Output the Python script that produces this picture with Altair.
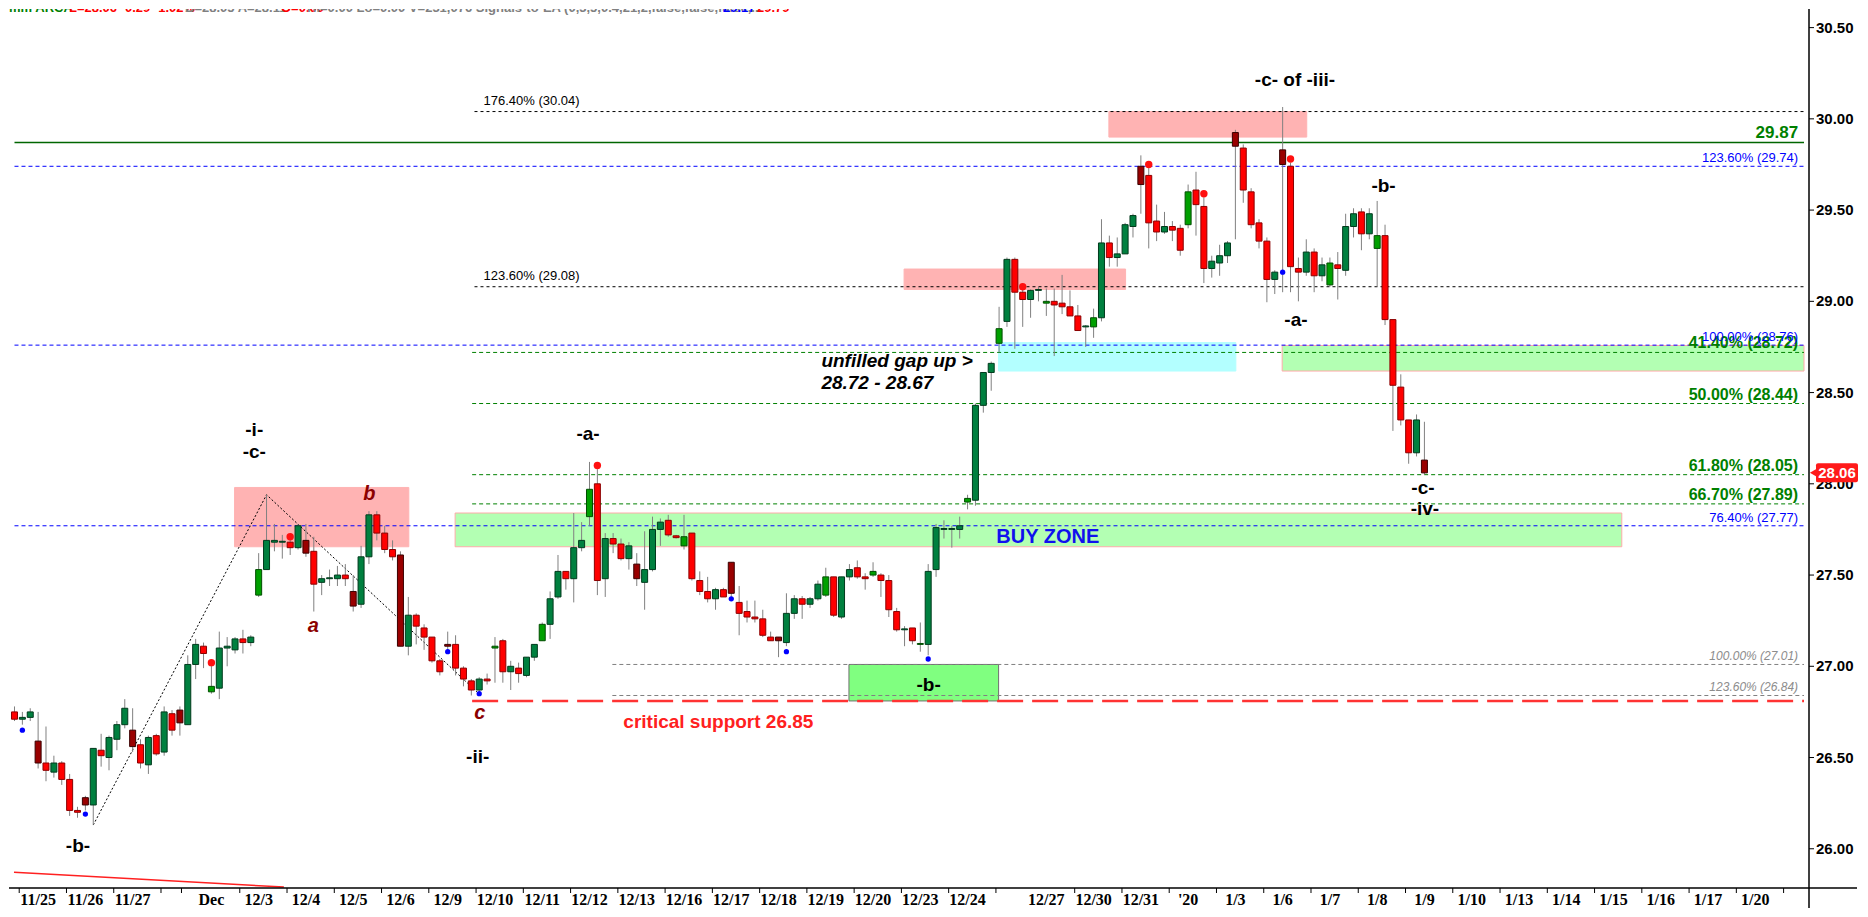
import altair as alt
import pandas as pd

# ---------------- OHLC bars (6 bars per session, last bars of 11/22 .. first bar of 1/9) ----------------
bar_open = [
    26.75, 26.71, 26.72, 26.59, 26.47, 26.42, 26.47, 26.38, 26.21, 26.28,
    26.24, 26.54, 26.50, 26.60, 26.68, 26.65, 26.57, 26.46, 26.62, 26.53,
    26.74, 26.76, 26.68, 27.01, 27.11, 26.86, 26.88, 27.10, 27.09, 27.15,
    27.13, 27.39, 27.53, 27.68, 27.68, 27.68, 27.65, 27.69, 27.63, 27.46,
    27.48, 27.48, 27.50, 27.41, 27.34, 27.60, 27.83, 27.73, 27.64, 27.61,
    27.11, 27.28, 27.21, 27.16, 27.03, 27.12, 27.12, 26.99, 26.92, 26.87,
    26.93, 27.10, 27.14, 26.97, 26.99, 26.95, 27.05, 27.14, 27.23, 27.38,
    27.52, 27.48, 27.65, 27.82, 28.00, 27.48, 27.70, 27.67, 27.59, 27.56,
    27.46, 27.53, 27.75, 27.80, 27.715, 27.66, 27.73, 27.47, 27.41, 27.37,
    27.42, 27.57, 27.35, 27.30, 27.27, 27.26, 27.16, 27.16, 27.13, 27.29,
    27.37, 27.34, 27.37, 27.39, 27.49, 27.27, 27.49, 27.54, 27.49, 27.50,
    27.50, 27.47, 27.30, 27.20, 27.21, 27.12, 27.12, 27.53, 27.75, 27.75,
    27.75, 27.90, 27.91, 28.43, 28.61, 28.77, 28.89, 29.23, 29.05, 29.01,
    29.06, 28.99, 29.00, 28.99, 28.97, 28.92, 28.86, 28.86, 28.91, 29.32,
    29.24, 29.26, 29.41, 29.74, 29.69, 29.44, 29.38, 29.41, 29.40, 29.42,
    29.61, 29.52, 29.18, 29.21, 29.25, 29.925, 29.84, 29.60, 29.43, 29.33,
    29.12, 29.83, 29.74, 29.18, 29.16, 29.27, 29.14, 29.09, 29.20, 29.17,
    29.41, 29.49, 29.37, 29.29, 29.36, 28.90, 28.53, 28.35, 28.17, 28.13,
]
bar_high = [
    26.78, 26.75, 26.77, 26.75, 26.67, 26.51, 26.48, 26.41, 26.23, 26.29,
    26.55, 26.63, 26.62, 26.70, 26.82, 26.77, 26.60, 26.62, 26.63, 26.78,
    26.76, 26.78, 27.06, 27.15, 27.13, 27.02, 27.19, 27.16, 27.16, 27.20,
    27.17, 27.62, 27.94, 27.78, 27.72, 27.71, 27.78, 27.78, 27.71, 27.50,
    27.53, 27.55, 27.56, 27.50, 27.66, 27.85, 27.85, 27.77, 27.69, 27.63,
    27.38, 27.29, 27.23, 27.16, 27.04, 27.19, 27.17, 27.00, 26.93, 26.94,
    26.96, 27.16, 27.15, 27.03, 27.02, 27.05, 27.12, 27.24, 27.41, 27.61,
    27.52, 27.84, 27.79, 28.12, 28.08, 27.73, 27.73, 27.70, 27.68, 27.62,
    27.74, 27.82, 27.81, 27.83, 27.72, 27.83, 27.73, 27.52, 27.49, 27.43,
    27.43, 27.57, 27.44, 27.36, 27.36, 27.31, 27.19, 27.16, 27.40, 27.39,
    27.385, 27.38, 27.47, 27.54, 27.49, 27.49, 27.56, 27.58, 27.51, 27.57,
    27.51, 27.50, 27.32, 27.22, 27.21, 27.24, 27.56, 27.78, 27.80, 27.77,
    27.82, 27.94, 28.44, 28.61, 28.67, 28.97, 29.24, 29.24, 29.08, 29.065,
    29.08, 29.07, 29.07, 29.145, 29.06, 28.98, 28.87, 28.96, 29.45, 29.36,
    29.35, 29.43, 29.48, 29.80, 29.73, 29.53, 29.49, 29.44, 29.42, 29.64,
    29.71, 29.57, 29.25, 29.31, 29.33, 29.94, 29.86, 29.62, 29.45, 29.35,
    29.17, 30.065, 29.76, 29.24, 29.34, 29.29, 29.24, 29.24, 29.27, 29.48,
    29.51, 29.51, 29.51, 29.55, 29.42, 28.90, 28.60, 28.35, 28.38, 28.34,
]
bar_low = [
    26.70, 26.68, 26.70, 26.44, 26.37, 26.39, 26.35, 26.18, 26.17, 26.21,
    26.13, 26.45, 26.43, 26.54, 26.66, 26.53, 26.44, 26.41, 26.51, 26.51,
    26.62, 26.62, 26.68, 26.93, 26.99, 26.85, 26.82, 27.00, 27.07, 27.07,
    27.11, 27.38, 27.53, 27.63, 27.59, 27.61, 27.64, 27.60, 27.30, 27.39,
    27.44, 27.44, 27.44, 27.30, 27.32, 27.56, 27.69, 27.62, 27.58, 27.11,
    27.06, 27.12, 27.09, 27.02, 26.95, 27.09, 26.95, 26.89, 26.84, 26.86,
    26.90, 26.91, 26.91, 26.87, 26.91, 26.94, 27.03, 27.14, 27.15, 27.37,
    27.42, 27.35, 27.63, 27.77, 27.39, 27.38, 27.62, 27.58, 27.53, 27.44,
    27.31, 27.52, 27.66, 27.71, 27.70, 27.64, 27.47, 27.39, 27.35, 27.31,
    27.38, 27.38, 27.17, 27.24, 27.24, 27.16, 27.14, 27.05, 27.11, 27.26,
    27.26, 27.32, 27.36, 27.38, 27.27, 27.26, 27.47, 27.48, 27.42, 27.49,
    27.38, 27.27, 27.19, 27.11, 27.12, 27.08, 27.06, 27.49, 27.70, 27.65,
    27.70, 27.86, 27.88, 28.39, 28.51, 28.72, 28.86, 28.74, 28.86, 28.91,
    29.00, 28.92, 28.70, 28.93, 28.92, 28.84, 28.75, 28.80, 28.89, 29.19,
    29.19, 29.26, 29.35, 29.48, 29.29, 29.33, 29.37, 29.33, 29.25, 29.40,
    29.36, 29.10, 29.13, 29.14, 29.21, 29.34, 29.54, 29.40, 29.29, 28.995,
    29.04, 29.05, 29.05, 29.00, 29.14, 29.05, 29.11, 29.08, 29.01, 29.14,
    29.35, 29.28, 29.34, 29.08, 28.87, 28.29, 28.32, 28.11, 28.15, 28.05,
]
bar_close = [
    26.71, 26.72, 26.75, 26.47, 26.43, 26.47, 26.38, 26.21, 26.20, 26.24,
    26.55, 26.51, 26.61, 26.68, 26.77, 26.56, 26.47, 26.61, 26.52, 26.75,
    26.65, 26.69, 27.01, 27.12, 27.07, 26.89, 27.10, 27.11, 27.15, 27.13,
    27.16, 27.53, 27.69, 27.69, 27.685, 27.65, 27.77, 27.62, 27.45, 27.48,
    27.485, 27.50, 27.48, 27.33, 27.60, 27.83, 27.73, 27.64, 27.60, 27.11,
    27.28, 27.22, 27.16, 27.03, 26.97, 27.11, 26.99, 26.93, 26.87, 26.93,
    26.92, 27.11, 26.97, 27.00, 26.96, 27.05, 27.12, 27.23, 27.37, 27.52,
    27.48, 27.65, 27.69, 27.97, 27.47, 27.70, 27.67, 27.59, 27.66, 27.48,
    27.53, 27.75, 27.79, 27.72, 27.705, 27.71, 27.48, 27.41, 27.37, 27.42,
    27.38, 27.40, 27.29, 27.27, 27.26, 27.17, 27.14, 27.14, 27.29, 27.37,
    27.34, 27.37, 27.45, 27.49, 27.28, 27.49, 27.53, 27.49, 27.48, 27.52,
    27.47, 27.31, 27.20, 27.205, 27.14, 27.125, 27.52, 27.76, 27.755, 27.755,
    27.77, 27.92, 28.43, 28.61, 28.66, 28.85, 29.23, 29.05, 29.01, 29.06,
    29.065, 29.00, 28.98, 28.97, 28.92, 28.84, 28.865, 28.91, 29.32, 29.24,
    29.26, 29.42, 29.47, 29.64, 29.43, 29.38, 29.41, 29.39, 29.28, 29.60,
    29.53, 29.18, 29.22, 29.25, 29.32, 29.85, 29.61, 29.42, 29.33, 29.12,
    29.16, 29.75, 29.19, 29.16, 29.27, 29.14, 29.20, 29.21, 29.18, 29.41,
    29.48, 29.37, 29.48, 29.36, 28.90, 28.54, 28.35, 28.17, 28.35, 28.06,
]
# g = up, G = up (first bar of session), r = down, R = down (first bar of session)
bar_style = list(
    "rggRrgrrrR" "grgggRrgrg" "rRggrGgggr" "gGgggrgRrg" "ggrRggrrrR"
    "grrrrRrrrg" "rGrgrggGgg" "rggGrgrrgR" "gggrrGrrrg" "rRrrrrrRgg"
    "rggGrggrrG" "rrrgrGgggg" "gGgggGgrrg" "gGrrrrgGgr" "gggRrrgrrG"
    "rrgggRrrrr" "gRrrgrgGrg" "grgGrrrrgR"
)

red_dot_bar = [25, 35, 74, 128, 144, 151, 162]
red_dot_price = [27.02, 27.71, 28.10, 29.08, 29.75, 29.59, 29.78]
blue_dot_bar = [1, 9, 55, 59, 91, 98, 116, 161]
blue_dot_price = [26.65, 26.19, 27.08, 26.85, 27.37, 27.08, 27.04, 29.16]

day_labels = ["11/25", "11/26", "11/27", "Dec", "12/3", "12/4", "12/5", "12/6", "12/9", "12/10",
              "12/11", "12/12", "12/13", "12/16", "12/17", "12/18", "12/19", "12/20", "12/23", "12/24",
              "12/27", "12/30", "12/31", "'20", "1/3", "1/6", "1/7", "1/8", "1/9", "1/10",
              "1/13", "1/14", "1/15", "1/16", "1/17", "1/20"]
day_bars = [3, 9, 15, 25, 31, 37, 43, 49, 55, 61, 67, 73, 79, 85, 91, 97, 103, 109, 115, 121,
            131, 137, 143, 149, 155, 161, 167, 173, 179, 185, 191, 197, 203, 209, 215, 221]

price_ticks = [26.0, 26.5, 27.0, 27.5, 28.0, 28.5, 29.0, 29.5, 30.0, 30.5]
last_price = 28.06

# fib / support levels
lvl_price = [30.04, 29.87, 29.74, 29.08, 28.76, 28.72, 28.44, 28.05, 27.89, 27.77, 27.01, 26.84, 26.81]
lvl_start = [58.4, 0.0, 0.0, 58.4, 0.0, 58.1, 58.1, 58.1, 58.1, 0.0, 75.9, 75.9, 58.1]
lvl_kind = ["black", "gsolid", "blue", "black", "blue", "green", "green", "green", "green", "blue",
            "gray", "gray", "critical"]
lvl_text = ["176.40% (30.04)", "29.87", "123.60% (29.74)", "123.60% (29.08)", "100.00% (28.76)",
            "41.40% (28.72)", "50.00% (28.44)", "61.80% (28.05)", "66.70% (27.89)", "76.40% (27.77)",
            "100.00% (27.01)", "123.60% (26.84)", ""]

# zones
zone_x0 = [27.94, 55.94, 112.94, 124.94, 160.94, 138.94, 105.94]
zone_x1 = [50.06, 204.06, 141.06, 155.06, 227.19, 164.06, 124.94]
zone_top = [27.98, 27.84, 29.177, 28.774, 28.758, 30.04, 27.01]
zone_bot = [27.655, 27.655, 29.065, 28.618, 28.618, 29.90, 26.81]
zone_kind = ["pink", "buy", "pink", "gap", "buy", "pink", "bbox"]

# wave path and trend line
wave_bar = [10, 32, 58.7]
wave_price = [26.13, 27.94, 26.86]
trend_bar = [-0.06, 34.2]
trend_price = [25.871, 25.79]

# annotations
wave_t = ["-b-", "-i-", "-c-", "-ii-", "-a-", "-b-", "-c- of -iii-", "-a-", "-b-", "-c-", "-iv-"]
wave_u = [8.06, 30.44, 30.44, 58.81, 72.81, 116.06, 162.56, 162.69, 173.81, 178.81, 179.06]
wave_p = [26.016, 28.296, 28.177, 26.505, 28.274, 26.898, 30.215, 28.898, 29.634, 27.978, 27.86]
sub_t = ["a", "b", "c"]
sub_u = [37.94, 45.06, 59.06]
sub_p = [27.22, 27.946, 26.742]
gap_t = ["unfilled gap up >", "28.72 - 28.67"]
gap_u = [102.44, 102.44]
gap_p = [28.672, 28.554]

header_t = ["mm ARCA", "L=28.06  -0.29  -1.02%", "B=28.05  A=28.11", "O=0.00",
            "Hi=0.00  Lo=0.00  V=231,076  Signals-to-EA (0,3,5,0.4,21,2,false,false,false,...",
            "29.17", "29.79"]
header_c = ["#008000", "#ff0000", "#808080", "#ff0000", "#808080", "#0000ff", "#ff0000"]

# ---------------- layout ----------------
W, H = 1800, 879
X0, X1 = -0.0625, 227.19
Y0, Y1 = 25.785, 30.602
FONT = "Liberation Sans"

xs = alt.Scale(domain=[X0, X1], nice=False, zero=False)
ys = alt.Scale(domain=[Y0, Y1], nice=False, zero=False)


def xq(f):
    return alt.X(f, type="quantitative", scale=xs, axis=None)


def yq(f):
    return alt.Y(f, type="quantitative", scale=ys, axis=None)


candles = pd.DataFrame({"i": list(range(len(bar_open))), "o": bar_open, "h": bar_high,
                        "l": bar_low, "c": bar_close, "s": bar_style})

wicks = alt.Chart(candles).mark_rule(color="#808080", strokeWidth=1).encode(
    x=xq("i"), y=yq("l"), y2="h:Q")

bodies = alt.Chart(candles).mark_bar(width=6, strokeWidth=1).encode(
    x=xq("i"), y=yq("o"), y2="c:Q",
    fill=alt.Fill("s:N", scale=alt.Scale(domain=["g", "G", "r", "R"],
                                         range=["#00803f", "#00a000", "#ff0000", "#990000"]), legend=None),
    stroke=alt.Stroke("s:N", scale=alt.Scale(domain=["g", "G", "r", "R"],
                                             range=["#003a1c", "#004d00", "#8b0000", "#3a0000"]), legend=None),
)

dots_red = alt.Chart(pd.DataFrame({"i": red_dot_bar, "p": red_dot_price})).mark_circle(
    color="#ff1010", size=55, opacity=1).encode(x=xq("i"), y=yq("p"))
dots_blue = alt.Chart(pd.DataFrame({"i": blue_dot_bar, "p": blue_dot_price})).mark_circle(
    color="#0000ff", size=28, opacity=1).encode(x=xq("i"), y=yq("p"))

# zones
zones = pd.DataFrame({"x0": zone_x0, "x1": zone_x1, "t": zone_top, "b": zone_bot, "k": zone_kind})
zone_style = {"pink": ("#ffb3b3", "#ffb3b3"), "buy": ("#b3ffb3", "#ffaaaa"),
              "gap": ("#b3ffff", "#b3ffff"), "bbox": ("#80ff80", "#707070")}
zone_layers = []
for k, (fc, sc) in zone_style.items():
    zone_layers.append(
        alt.Chart(zones[zones.k == k]).mark_rect(fill=fc, stroke=sc, strokeWidth=1).encode(
            x=xq("x0"), x2="x1:Q", y=yq("t"), y2="b:Q"))

# levels
levels = pd.DataFrame({"p": lvl_price, "x0": lvl_start, "k": lvl_kind, "t": lvl_text})
levels["x1"] = X1
lvl_style = {"black": ("#000000", [3, 3], 1), "gsolid": ("#006600", [10, 0], 1.5),
             "blue": ("#0000ff", [4, 3], 1), "green": ("#008000", [4, 3], 1),
             "gray": ("#808080", [4, 3], 1), "critical": ("#ff3333", [26, 9], 2.5)}
level_layers = []
for k, (col, dash, wdt) in lvl_style.items():
    level_layers.append(
        alt.Chart(levels[levels.k == k]).mark_rule(color=col, strokeDash=dash, strokeWidth=wdt).encode(
            x=xq("x0"), x2="x1:Q", y=yq("p")))

# level labels
RX = 226.44
lab_r = levels[levels.k != "black"].copy()
lab_r["x"] = RX
lab_l = levels[levels.k == "black"].copy()
lab_style = {"gsolid": ("#008000", 17, "bold", "normal"), "green": ("#008000", 16, "bold", "normal"),
             "blue": ("#0000ff", 13, "normal", "normal"), "gray": ("#8c8c8c", 12, "normal", "italic")}
label_layers = []
for k, (col, fs, fw, fst) in lab_style.items():
    label_layers.append(
        alt.Chart(lab_r[lab_r.k == k]).mark_text(
            color=col, fontSize=fs, fontWeight=fw, fontStyle=fst, font=FONT, align="right",
            baseline="bottom", dy=-1).encode(x=xq("x"), y=yq("p"), text="t:N"))
label_layers.append(
    alt.Chart(lab_l).mark_text(color="#000000", fontSize=13, font=FONT,
                               align="left", baseline="bottom", dx=9, dy=-4).encode(
        x=xq("x0"), y=yq("p"), text="t:N"))

# wave path / trend
wave = alt.Chart(pd.DataFrame({"i": wave_bar, "p": wave_price, "o": [0, 1, 2]})).mark_line(
    color="#000000", strokeDash=[2, 2], strokeWidth=1).encode(x=xq("i"), y=yq("p"), order="o:Q")
trend = alt.Chart(pd.DataFrame({"i": trend_bar, "p": trend_price, "o": [0, 1]})).mark_line(
    color="#ff2020", strokeWidth=1.5).encode(x=xq("i"), y=yq("p"), order="o:Q")

# annotations
wave_lbl = alt.Chart(pd.DataFrame({"u": wave_u, "p": wave_p, "t": wave_t})).mark_text(
    font=FONT, fontSize=19, fontWeight="bold", color="#000000", align="center", baseline="middle").encode(
    x=xq("u"), y=yq("p"), text="t:N")
sub_lbl = alt.Chart(pd.DataFrame({"u": sub_u, "p": sub_p, "t": sub_t})).mark_text(
    font=FONT, fontSize=20, color="#8b0000", fontWeight="bold", fontStyle="italic",
    align="center", baseline="middle").encode(x=xq("u"), y=yq("p"), text="t:N")
gap_lbl = alt.Chart(pd.DataFrame({"u": gap_u, "p": gap_p, "t": gap_t})).mark_text(
    font=FONT, fontSize=19, color="#000000", fontWeight="bold", fontStyle="italic",
    align="left", baseline="middle").encode(x=xq("u"), y=yq("p"), text="t:N")
crit_lbl = alt.Chart(pd.DataFrame({"u": [89.36], "p": [26.696], "t": ["critical support 26.85"]})).mark_text(
    font=FONT, fontSize=19, color="#ff2020", fontWeight="bold", align="center", baseline="middle").encode(
    x=xq("u"), y=yq("p"), text="t:N")
buy_lbl = alt.Chart(pd.DataFrame({"u": [131.19], "p": [27.71], "t": ["BUY ZONE"]})).mark_text(
    font=FONT, fontSize=20, color="#1010ee", fontWeight="bold", align="center", baseline="middle").encode(
    x=xq("u"), y=yq("p"), text="t:N")

# header (cut off at top)
hx = [0, 60, 176, 272, 298, 714, 748]
header = alt.Chart(pd.DataFrame({"t": header_t, "c": header_c, "hx": hx})).mark_text(
    font=FONT, fontSize=13, fontWeight="bold", align="left", baseline="alphabetic", clip=True).encode(
    x=alt.X("hx:Q", scale=None, axis=None), y=alt.value(3), text="t:N",
    color=alt.Color("c:N", scale=None))

# ---- hand-drawn axes ----
one = pd.DataFrame({"a": [0]})
x_domain = alt.Chart(one).mark_rule(color="#000000", strokeWidth=1.5).encode(
    x=alt.value(0), x2=alt.value(W + 48), y=alt.value(H))
y_domain = alt.Chart(one).mark_rule(color="#000000", strokeWidth=1.5).encode(
    x=alt.value(W), y=alt.value(0), y2=alt.value(H + 20))

tick_df = pd.DataFrame({"i": [b + 3.6 for b in day_bars] + [0.6, 21.2]})
xticks = alt.Chart(tick_df).mark_rule(color="#000000", strokeWidth=1).encode(
    x=xq("i"), y=alt.value(H), y2=alt.value(H + 5))
xlabels = alt.Chart(pd.DataFrame({"i": day_bars, "t": day_labels})).mark_text(
    font="Liberation Sans Narrow", fontSize=16, fontWeight="bold", color="#000000",
    align="center", baseline="top").encode(x=xq("i"), y=alt.value(H + 4), text="t:N")

ytk = pd.DataFrame({"p": price_ticks, "t": ["%.2f" % v for v in price_ticks]})
yticks = alt.Chart(ytk).mark_rule(color="#000000", strokeWidth=1).encode(
    x=alt.value(W), x2=alt.value(W + 5), y=yq("p"))
ylabels = alt.Chart(ytk).mark_text(
    font=FONT, fontSize=15, fontWeight="bold", color="#000000", align="left", baseline="middle").encode(
    x=alt.value(W + 7), y=yq("p"), text="t:N")

# last price tag
tag = pd.DataFrame({"p": [last_price], "t": ["%.2f" % last_price]})
tag["pt"] = tag.p + 0.052
tag["pb"] = tag.p - 0.052
tag_rect = alt.Chart(tag).mark_rect(color="#ff1a1a", cornerRadius=2).encode(
    x=alt.value(W + 7), x2=alt.value(W + 49), y=yq("pt"), y2="pb:Q")
tag_tri = alt.Chart(tag).mark_point(shape="triangle-left", filled=True, size=90, color="#ff1a1a",
                                    opacity=1).encode(x=alt.value(W + 5), y=yq("p"))
tag_txt = alt.Chart(tag).mark_text(color="#ffffff", fontWeight="bold", fontSize=15, font=FONT,
                                   align="center", baseline="middle").encode(
    x=alt.value(W + 28), y=yq("p"), text="t:N")

chart = alt.layer(
    *zone_layers, *level_layers, trend, wave, wicks, bodies, dots_red, dots_blue,
    *label_layers, wave_lbl, sub_lbl, gap_lbl, crit_lbl, buy_lbl, header,
    x_domain, y_domain, xticks, xlabels, yticks, ylabels,
    tag_rect, tag_tri, tag_txt,
).properties(
    width=W, height=H, padding={"left": 0, "top": 0, "right": 0, "bottom": 0}, background="#ffffff"
).configure_view(strokeWidth=0)

chart.save("out.html", embed_options={"renderer": "svg", "actions": False})
